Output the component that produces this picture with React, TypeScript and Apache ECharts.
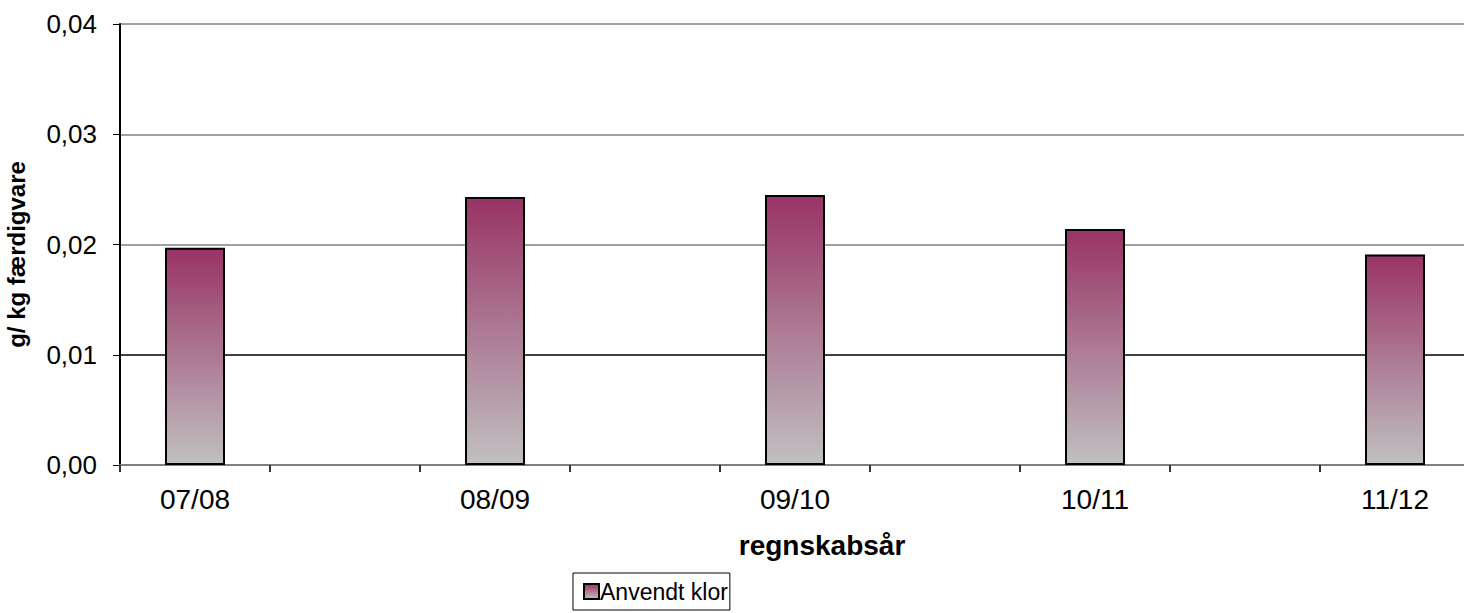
import React, { useEffect, useRef } from "react";
import * as echarts from "echarts";

const categories = ["07/08", "", "08/09", "", "09/10", "", "10/11", "", "11/12"];
const chlorValues: (number | string)[] = [0.0197, "-", 0.0243, "-", 0.0245, "-", 0.0214, "-", 0.0191];
const yTicks = [0, 0.01, 0.02, 0.03, 0.04];
const seriesName = "Anvendt klor";

export default function App() {
  const ref = useRef<HTMLDivElement>(null);
  useEffect(() => {
    document.body.style.margin = "0";
    const chart = echarts.init(ref.current!, null, { renderer: "svg" });
    const grad = new echarts.graphic.LinearGradient(0, 0, 0, 1, [
      { offset: 0, color: "#993366" },
      { offset: 1, color: "#C0C0C0" },
    ]);
    chart.setOption({
      animation: false,
      backgroundColor: "#ffffff",
      textStyle: { fontFamily: "Liberation Sans, Arial, sans-serif" },
      grid: { left: 120, top: 24, width: 1350, height: 441, containLabel: false, outerBoundsMode: "none" },
      legend: {
        data: [seriesName],
        left: 573,
        top: 573,
        orient: "horizontal",
        borderColor: "#000",
        borderWidth: 1,
        padding: [7, 2, 7, 10],
        itemWidth: 15,
        itemHeight: 15,
        itemGap: 2,
        icon: "rect",
        itemStyle: { borderColor: "#000", borderWidth: 2 },
        textStyle: { fontSize: 23, color: "#000", padding: [0, 0, 0, -4] },
      },
      xAxis: {
        type: "category",
        data: categories,
        axisLine: { lineStyle: { color: "#808080", width: 2 } },
        axisTick: { show: true, alignWithLabel: false, length: 7, lineStyle: { color: "#333", width: 2 } },
        axisLabel: { interval: 0, fontSize: 28, color: "#000", margin: 20 },
        splitLine: { show: false },
      },
      yAxis: {
        type: "value",
        min: yTicks[0],
        max: yTicks[yTicks.length - 1],
        interval: 0.01,
        name: "g/ kg færdigvare",
        nameLocation: "middle",
        nameGap: 92,
        nameRotate: 90,
        nameTextStyle: { fontSize: 24, fontWeight: "bold", color: "#000", padding: [0, 0, 0, -20] },
        axisLine: { show: true, lineStyle: { color: "#000", width: 2 } },
        axisTick: { show: true, length: 7, lineStyle: { color: "#000", width: 1 } },
        axisLabel: {
          fontSize: 26,
          color: "#000",
          margin: 23,
          formatter: (v: number) => v.toFixed(2).replace(".", ","),
        },
        splitLine: {
          show: true,
          lineStyle: { color: ["#808080", "#000", "#808080", "#808080", "#808080"], width: 1.5 },
        },
      },
      graphic: [
        {
          type: "text",
          x: 822,
          y: 545,
          style: {
            text: "regnskabsår",
            font: "bold 28px 'Liberation Sans', Arial, sans-serif",
            fill: "#000",
            align: "center",
            verticalAlign: "middle",
          },
        },
      ],
      series: [
        {
          name: seriesName,
          type: "bar",
          data: chlorValues,
          barWidth: 60,
          itemStyle: { color: grad, borderColor: "#000", borderWidth: 2 },
        },
      ],
    });
    return () => chart.dispose();
  }, []);
  return <div ref={ref} style={{ position: "absolute", left: 0, top: 0, width: 1464, height: 613 }} />;
}
